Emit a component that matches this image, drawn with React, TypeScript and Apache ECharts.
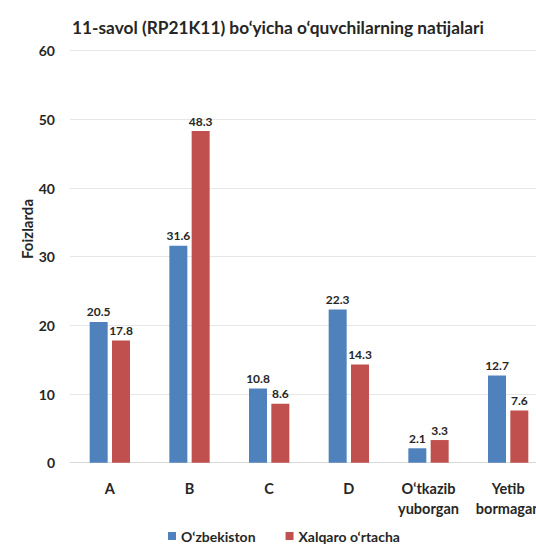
import React, { useEffect, useRef } from "react";
import * as echarts from "echarts";

const categories = ["A", "B", "C", "D", "O‘tkazib\nyuborgan", "Yetib\nbormagan"];
const uzbekiston = [20.5, 31.6, 10.8, 22.3, 2.1, 12.7];
const xalqaro = [17.8, 48.3, 8.6, 14.3, 3.3, 7.6];
const seriesNames = ["O‘zbekiston", "Xalqaro o‘rtacha"];
const titleText = "11-savol (RP21K11) bo‘yicha o‘quvchilarning natijalari";
const yAxisName = "Foizlarda";

const FONT = "Lato, 'Open Sans', sans-serif";
const TEXT = "#262626";

export default function App() {
  const ref = useRef<HTMLDivElement>(null);
  useEffect(() => {
    if (!ref.current) return;
    const chart = echarts.init(ref.current, null, { renderer: "svg" });
    const label = {
      show: true,
      position: "top" as const,
      distance: 4,
      fontSize: 12,
      fontWeight: "bold" as const,
      color: TEXT,
      fontFamily: FONT,
    };
    chart.setOption({
      animation: false,
      backgroundColor: "#ffffff",
      textStyle: { fontFamily: FONT },
      title: {
        text: titleText,
        left: 67,
        top: 14,
        textStyle: { fontSize: 17.3, fontWeight: "bold", color: TEXT, fontFamily: FONT },
      },
      legend: {
        data: seriesNames,
        top: 524,
        left: 163,
        itemWidth: 8,
        itemHeight: 8,
        itemGap: 30,
        icon: "rect",
        textStyle: { fontSize: 14, fontWeight: "bold", color: TEXT, fontFamily: FONT },
      },
      graphic: [
        {
          type: "text",
          x: 27,
          y: 229,
          rotation: Math.PI / 2,
          style: {
            text: yAxisName,
            fontSize: 15,
            fontWeight: "bold",
            fill: TEXT,
            fontFamily: FONT,
            align: "center",
            verticalAlign: "middle",
          },
        },
      ],
      grid: { left: 70, right: 0, top: 50.7, bottom: 83.3 },
      xAxis: {
        type: "category",
        data: categories,
        axisLine: { lineStyle: { color: "#d9d9d9" } },
        axisTick: { show: false },
        axisLabel: {
          interval: 0,
          margin: 16,
          fontSize: 14.5,
          fontWeight: "bold",
          color: TEXT,
          lineHeight: 20,
          fontFamily: FONT,
        },
      },
      yAxis: {
        type: "value",
        min: 0,
        max: 60,
        interval: 10,
        axisLine: { show: false },
        axisTick: { show: false },
        splitLine: { lineStyle: { color: "#e6e6e6" } },
        axisLabel: {
          margin: 15,
          fontSize: 14,
          fontWeight: "bold",
          color: TEXT,
          fontFamily: FONT,
        },
      },
      series: [
        {
          name: seriesNames[0],
          type: "bar",
          data: uzbekiston,
          barWidth: 18,
          barGap: "24%",
          itemStyle: { color: "#4F81BD" },
          label,
        },
        {
          name: seriesNames[1],
          type: "bar",
          data: xalqaro,
          barWidth: 18,
          itemStyle: { color: "#C0504D" },
          label,
        },
      ],
    });
    return () => chart.dispose();
  }, []);
  return (
    <div style={{ position: "absolute", left: 0, top: 0, width: 536, height: 546, overflow: "hidden" }}>
      <div ref={ref} style={{ width: 548, height: 546 }} />
    </div>
  );
}
